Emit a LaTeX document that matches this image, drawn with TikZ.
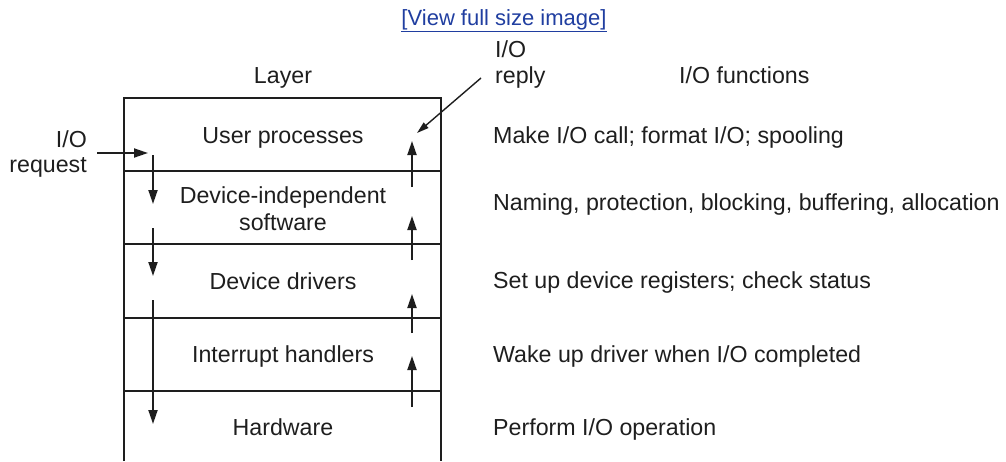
\documentclass[tikz,border=0pt]{standalone}
\usepackage{fontspec}
\setmainfont{Liberation Sans}
\usetikzlibrary{arrows.meta}
\definecolor{ink}{RGB}{30,30,30}
\definecolor{linkblue}{RGB}{32,62,160}
\tikzset{
  lbl/.style={font=\fontsize{23.2}{27}\selectfont, text=ink, inner sep=0pt, anchor=base},
  lbll/.style={lbl, anchor=base west},
  boxline/.style={draw=ink, line width=2pt},
  flow/.style={draw=ink, line width=1.9pt, -{Triangle[length=14pt,width=9pt]}},
  reply/.style={draw=ink, line width=1.4pt, -{Triangle[length=12pt,width=7pt]}}
}
\begin{document}
\begin{tikzpicture}[x=1pt,y=-1pt]
\useasboundingbox (0,0) rectangle (1006,461);
% link
\node[lbl, text=linkblue, font=\fontsize{22}{26}\selectfont] (link) at (504,25) {\underline{[View full size image]}};
% headers
\node[lbl] (layer) at (283,83) {Layer};
\node[lbll] (func) at (679,83) {I/O functions};
\node[lbll] (replyA) at (495,57) {I/O};
\node[lbll] (replyB) at (495,83) {reply};
% box
\coordinate (tl) at (124,98);
\coordinate (tr) at (441,98);
\coordinate (bl) at (124,461);
\coordinate (br) at (441,461);
\draw[boxline] (bl) -- (tl) -- (tr) -- (br);
\foreach \y/\n in {171/a,244/b,318/c,391/d}{
  \coordinate (l\n) at (124,\y);
  \coordinate (r\n) at (441,\y);
  \draw[boxline] (l\n) -- (r\n);
}
% layer labels
\node[lbl] (user) at (283,143) {User processes};
\node[lbl] (dis1) at (283,203) {Device-independent};
\node[lbl] (dis2) at (283,230) {software};
\node[lbl] (dd) at (283,289) {Device drivers};
\node[lbl] (ih) at (283,362) {Interrupt handlers};
\node[lbl] (hw) at (283,435) {Hardware};
% functions
\node[lbll] (f1) at (493,143) {Make I/O call; format I/O; spooling};
\node[lbll] (f2) at (493,210) {Naming, protection, blocking, buffering, allocation};
\node[lbll] (f3) at (493,288) {Set up device registers; check status};
\node[lbll] (f4) at (493,362) {Wake up driver when I/O completed};
\node[lbll] (f5) at (493,435) {Perform I/O operation};
% request
\node[lbl, anchor=base east] (reqA) at (87,147) {I/O};
\node[lbl, anchor=base east] (reqB) at (87,172) {request};
\coordinate (rq0) at (97,153);
\coordinate (rq1) at (148,153);
\draw[flow] (rq0) -- (rq1);
% down arrows
\coordinate (d1s) at (153,155); \coordinate (d1e) at (153,204);
\coordinate (d2s) at (153,228); \coordinate (d2e) at (153,276);
\coordinate (d3s) at (153,300); \coordinate (d3e) at (153,424);
\draw[flow] (d1s) -- (d1e);
\draw[flow] (d2s) -- (d2e);
\draw[flow] (d3s) -- (d3e);
% up arrows
\coordinate (u1s) at (412,187); \coordinate (u1e) at (412,141);
\coordinate (u2s) at (412,260); \coordinate (u2e) at (412,216);
\coordinate (u3s) at (412,333); \coordinate (u3e) at (412,294);
\coordinate (u4s) at (412,407); \coordinate (u4e) at (412,356);
\draw[flow] (u1s) -- (u1e);
\draw[flow] (u2s) -- (u2e);
\draw[flow] (u3s) -- (u3e);
\draw[flow] (u4s) -- (u4e);
% reply arrow
\coordinate (rp0) at (481,78);
\coordinate (rp1) at (417,133);
\draw[reply] (rp0) -- (rp1);
\end{tikzpicture}
\end{document}
